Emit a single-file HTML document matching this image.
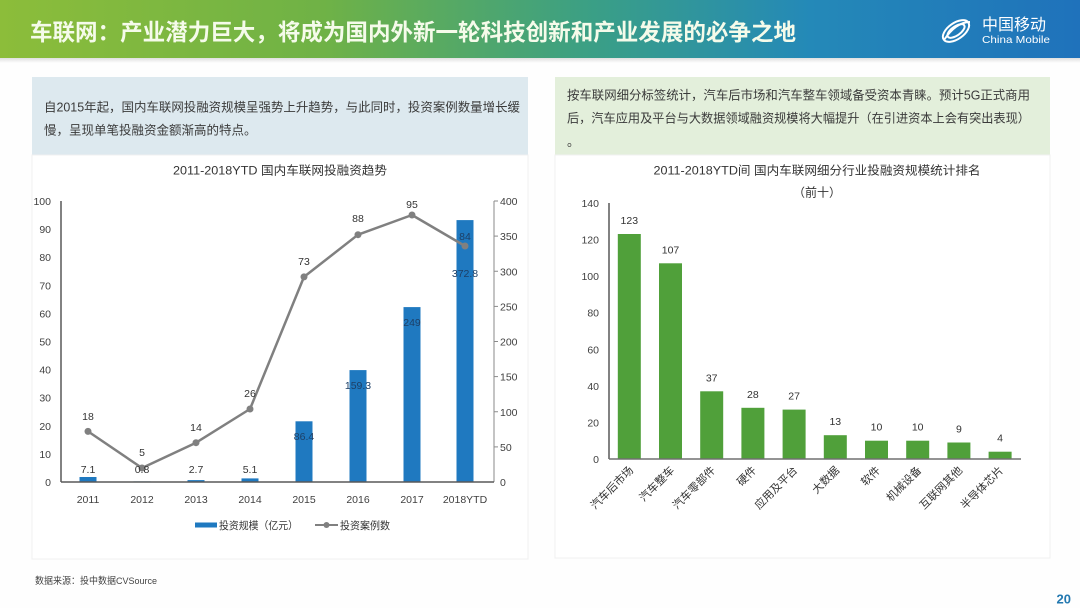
<!DOCTYPE html>
<html><head><meta charset="utf-8"><style>
html,body{margin:0;padding:0;background:#fff;}
svg{display:block;}
text{font-family:"Liberation Sans","Noto Sans CJK SC",sans-serif;}
</style></head><body>
<svg width="1080" height="608" viewBox="0 0 1080 608" xmlns="http://www.w3.org/2000/svg">
<defs>
<linearGradient id="hg" x1="0" y1="0" x2="1" y2="0">
<stop offset="0" stop-color="#8cbd3a"/>
<stop offset="0.3" stop-color="#6fb246"/>
<stop offset="0.55" stop-color="#3a9f86"/>
<stop offset="0.75" stop-color="#2489b8"/>
<stop offset="1" stop-color="#1f72bb"/>
</linearGradient>
<linearGradient id="sh" x1="0" y1="0" x2="0" y2="1">
<stop offset="0" stop-color="#000" stop-opacity="0.12"/>
<stop offset="1" stop-color="#000" stop-opacity="0"/>
</linearGradient>
</defs>
<rect width="1080" height="608" fill="#fefefe"/>
<!-- header -->
<rect x="0" y="0" width="1080" height="58" fill="url(#hg)"/>
<rect x="0" y="58" width="1080" height="5" fill="url(#sh)"/>
<text x="30" y="40" font-size="23" font-weight="bold" fill="#f5fbea" textLength="766" lengthAdjust="spacingAndGlyphs" style="font-family:'Noto Sans CJK SC','Liberation Sans',sans-serif">车联网：产业潜力巨大，将成为国内外新一轮科技创新和产业发展的必争之地</text>
<!-- logo -->
<g fill="none" stroke="#fff" stroke-width="2">
<ellipse cx="956" cy="31" rx="15" ry="8" transform="rotate(-35 956 31)"/>
<ellipse cx="956" cy="31" rx="10" ry="4.5" transform="rotate(-35 956 31)"/>
<path d="M944 40 Q956 22 970 22"/>
</g>
<text x="982" y="30" font-size="16" fill="#fff" style="font-family:'Noto Sans CJK SC',sans-serif">中国移动</text>
<text x="982" y="43" font-size="10.5" fill="#fff" textLength="68" lengthAdjust="spacingAndGlyphs">China Mobile</text>

<!-- text boxes -->
<rect x="32" y="77" width="496" height="78" fill="#dde9ef"/>
<rect x="555" y="77" width="495" height="78" fill="#e3efdb"/>
<text x="44" y="111.5" font-size="12.5" fill="#3a3a3a" textLength="476" lengthAdjust="spacingAndGlyphs">自2015年起，国内车联网投融资规模呈强势上升趋势，与此同时，投资案例数量增长缓</text>
<text x="44" y="134.5" font-size="12.5" fill="#3a3a3a">慢，呈现单笔投融资金额渐高的特点。</text>
<text x="567" y="99.5" font-size="12.5" fill="#3a3a3a" textLength="463" lengthAdjust="spacingAndGlyphs">按车联网细分标签统计，汽车后市场和汽车整车领域备受资本青睐。预计5G正式商用</text>
<text x="567" y="122.5" font-size="12.5" fill="#3a3a3a" textLength="463" lengthAdjust="spacingAndGlyphs">后，汽车应用及平台与大数据领域融资规模将大幅提升（在引进资本上会有突出表现）</text>
<text x="567" y="146" font-size="12.5" fill="#3a3a3a">。</text>

<!-- panels -->
<rect x="32" y="155" width="496" height="404" fill="#fff" stroke="#f0f0f0" stroke-width="1"/>
<rect x="555" y="155" width="495" height="403" fill="#fff" stroke="#f0f0f0" stroke-width="1"/>

<!-- LEFT CHART -->
<text x="280" y="174.5" font-size="12" fill="#333" text-anchor="middle" textLength="214" lengthAdjust="spacingAndGlyphs">2011-2018YTD 国内车联网投融资趋势</text>
<g font-size="10.5" fill="#404040" text-anchor="end">
<text x="51" y="486">0</text>
<text x="51" y="457.9">10</text>
<text x="51" y="429.8">20</text>
<text x="51" y="401.7">30</text>
<text x="51" y="373.6">40</text>
<text x="51" y="345.5">50</text>
<text x="51" y="317.4">60</text>
<text x="51" y="289.3">70</text>
<text x="51" y="261.2">80</text>
<text x="51" y="233.1">90</text>
<text x="51" y="205">100</text>
</g>
<g font-size="10.5" fill="#404040">
<text x="500" y="486">0</text>
<text x="500" y="450.9">50</text>
<text x="500" y="415.75">100</text>
<text x="500" y="380.6">150</text>
<text x="500" y="345.5">200</text>
<text x="500" y="310.4">250</text>
<text x="500" y="275.25">300</text>
<text x="500" y="240.1">350</text>
<text x="500" y="205">400</text>
</g>
<g stroke="#8a8a8a" stroke-width="1">
<line x1="494" y1="201" x2="494" y2="482"/>
<line x1="494" y1="446.9" x2="498" y2="446.9"/>
<line x1="494" y1="411.75" x2="498" y2="411.75"/>
<line x1="494" y1="376.6" x2="498" y2="376.6"/>
<line x1="494" y1="341.5" x2="498" y2="341.5"/>
<line x1="494" y1="306.4" x2="498" y2="306.4"/>
<line x1="494" y1="271.25" x2="498" y2="271.25"/>
<line x1="494" y1="236.1" x2="498" y2="236.1"/>
<line x1="494" y1="201" x2="498" y2="201"/>
</g>
<!-- bars -->
<g fill="#1f79c0">
<rect x="79.5" y="477" width="17" height="5"/>
<rect x="133.5" y="481.4" width="17" height="0.6"/>
<rect x="187.5" y="480.1" width="17" height="1.9"/>
<rect x="241.5" y="478.4" width="17" height="3.6"/>
<rect x="295.5" y="421.3" width="17" height="60.7"/>
<rect x="349.5" y="370.1" width="17" height="111.9"/>
<rect x="403.5" y="307.1" width="17" height="174.9"/>
<rect x="456.5" y="220.1" width="17" height="261.9"/>
</g>
<line x1="61" y1="201" x2="61" y2="482" stroke="#595959" stroke-width="1.5"/>
<line x1="61" y1="482" x2="494" y2="482" stroke="#595959" stroke-width="1.5"/>
<!-- line -->
<polyline points="88,431.4 142,468 196,442.7 250,409 304,276.9 358,234.7 412,215 465,246" fill="none" stroke="#808080" stroke-width="2.5" stroke-linejoin="round"/>
<g fill="#808080">
<circle cx="88" cy="431.4" r="3.5"/>
<circle cx="142" cy="468" r="3.5"/>
<circle cx="196" cy="442.7" r="3.5"/>
<circle cx="250" cy="409" r="3.5"/>
<circle cx="304" cy="276.9" r="3.5"/>
<circle cx="358" cy="234.7" r="3.5"/>
<circle cx="412" cy="215" r="3.5"/>
<circle cx="465" cy="246" r="3.5"/>
</g>
<!-- bar labels -->
<g font-size="10.5" fill="#333" text-anchor="middle">
<text x="88" y="473">7.1</text>
<text x="142" y="473">0.8</text>
<text x="196" y="473">2.7</text>
<text x="250" y="473">5.1</text>
<text x="304" y="440" fill="#1d3f66">86.4</text>
<text x="358" y="389" fill="#1d3f66">159.3</text>
<text x="412" y="326" fill="#1d3f66">249</text>
<text x="465" y="277" fill="#1d3f66">372.8</text>
</g>
<!-- line labels -->
<g font-size="10.5" fill="#333" text-anchor="middle">
<text x="88" y="420">18</text>
<text x="142" y="456">5</text>
<text x="196" y="431">14</text>
<text x="250" y="397">26</text>
<text x="304" y="265">73</text>
<text x="358" y="222">88</text>
<text x="412" y="208">95</text>
<text x="465" y="240" fill="#1d3f66">84</text>
</g>
<!-- year labels -->
<g font-size="10.5" fill="#404040" text-anchor="middle">
<text x="88" y="503">2011</text>
<text x="142" y="503">2012</text>
<text x="196" y="503">2013</text>
<text x="250" y="503">2014</text>
<text x="304" y="503">2015</text>
<text x="358" y="503">2016</text>
<text x="412" y="503">2017</text>
<text x="465" y="503">2018YTD</text>
</g>
<!-- legend -->
<rect x="195" y="522.5" width="22" height="5" fill="#1f79c0"/>
<text x="219" y="529" font-size="10.5" fill="#333" textLength="79" lengthAdjust="spacingAndGlyphs">投资规模（亿元）</text>
<line x1="315" y1="525" x2="338" y2="525" stroke="#808080" stroke-width="2"/>
<circle cx="326.5" cy="525" r="3" fill="#808080"/>
<text x="340" y="529" font-size="10.5" fill="#333" textLength="50" lengthAdjust="spacingAndGlyphs">投资案例数</text>

<!-- source -->
<text x="35" y="584" font-size="9.5" fill="#444" textLength="122" lengthAdjust="spacingAndGlyphs">数据来源：投中数据CVSource</text>
<text x="1071" y="603.5" font-size="13" font-weight="bold" fill="#2278b0" text-anchor="end">20</text>

<!-- RIGHT CHART -->
<text x="817" y="174.5" font-size="12" fill="#333" text-anchor="middle" textLength="327" lengthAdjust="spacingAndGlyphs">2011-2018YTD间 国内车联网细分行业投融资规模统计排名</text>
<text x="817" y="196.5" font-size="12" fill="#333" text-anchor="middle">（前十）</text>
<g font-size="10.5" fill="#404040" text-anchor="end">
<text x="599" y="463">0</text>
<text x="599" y="426.4">20</text>
<text x="599" y="389.8">40</text>
<text x="599" y="353.3">60</text>
<text x="599" y="316.7">80</text>
<text x="599" y="280.1">100</text>
<text x="599" y="243.5">120</text>
<text x="599" y="207">140</text>
</g>
<g fill="#50a03a">
<rect x="617.8" y="234" width="23" height="225"/>
<rect x="659" y="263.3" width="23" height="195.7"/>
<rect x="700.2" y="391.3" width="23" height="67.7"/>
<rect x="741.4" y="407.8" width="23" height="51.2"/>
<rect x="782.6" y="409.6" width="23" height="49.4"/>
<rect x="823.8" y="435.2" width="23" height="23.8"/>
<rect x="865" y="440.7" width="23" height="18.3"/>
<rect x="906.2" y="440.7" width="23" height="18.3"/>
<rect x="947.4" y="442.5" width="23" height="16.5"/>
<rect x="988.6" y="451.7" width="23" height="7.3"/>
</g>
<line x1="609" y1="203" x2="609" y2="459" stroke="#595959" stroke-width="1.5"/>
<line x1="609" y1="459" x2="1021" y2="459" stroke="#707070" stroke-width="1.5"/>
<g font-size="10.5" fill="#333" text-anchor="middle">
<text x="629.3" y="224">123</text>
<text x="670.5" y="253.3">107</text>
<text x="711.7" y="381.3">37</text>
<text x="752.9" y="397.8">28</text>
<text x="794.1" y="399.6">27</text>
<text x="835.3" y="425.2">13</text>
<text x="876.5" y="430.7">10</text>
<text x="917.7" y="430.7">10</text>
<text x="958.9" y="432.5">9</text>
<text x="1000.1" y="441.7">4</text>
</g>
<g font-size="11" fill="#333" text-anchor="end" style="font-family:'Noto Sans CJK SC','Liberation Sans',sans-serif">
<text transform="translate(634,471) rotate(-45)">汽车后市场</text>
<text transform="translate(675,471) rotate(-45)">汽车整车</text>
<text transform="translate(716,471) rotate(-45)">汽车零部件</text>
<text transform="translate(757,471) rotate(-45)">硬件</text>
<text transform="translate(798,471) rotate(-45)">应用及平台</text>
<text transform="translate(840,471) rotate(-45)">大数据</text>
<text transform="translate(881,471) rotate(-45)">软件</text>
<text transform="translate(922,471) rotate(-45)">机械设备</text>
<text transform="translate(963,471) rotate(-45)">互联网其他</text>
<text transform="translate(1004,471) rotate(-45)">半导体芯片</text>
</g>
</svg>
</body></html>
